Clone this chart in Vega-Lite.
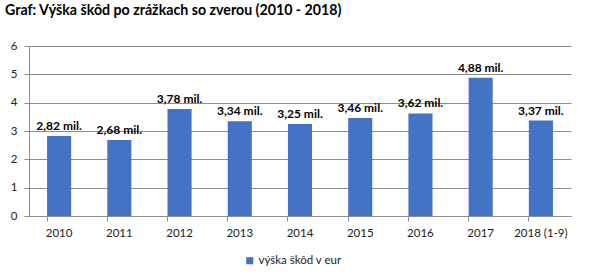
{
  "$schema": "https://vega.github.io/schema/vega-lite/v6.json",
  "autosize": {"type": "none"},
  "width": 542,
  "height": 170,
  "padding": {"left": 29, "top": 46, "right": 22, "bottom": 59},
  "background": "white",
  "title": {
    "text": "Graf: Výška škôd po zrážkach so zverou (2010 - 2018)",
    "anchor": "start",
    "frame": "group",
    "dx": -24,
    "offset": 22,
    "font": "Lato",
    "fontSize": 14.2,
    "fontWeight": "bold",
    "color": "#000000"
  },
  "config": {
    "view": {"stroke": null},
    "font": "Lato",
    "axis": {
      "labelFont": "Lato",
      "labelFontSize": 11.5,
      "labelColor": "#222222",
      "domainColor": "#8c8c8c",
      "tickColor": "#8c8c8c",
      "gridColor": "#8c8c8c",
      "titleFontSize": 11
    }
  },
  "data": {
    "values": [
      {"rok": "2010", "skody": 2.82, "popis": "2,82 mil."},
      {"rok": "2011", "skody": 2.68, "popis": "2,68 mil."},
      {"rok": "2012", "skody": 3.78, "popis": "3,78 mil."},
      {"rok": "2013", "skody": 3.34, "popis": "3,34 mil."},
      {"rok": "2014", "skody": 3.25, "popis": "3,25 mil."},
      {"rok": "2015", "skody": 3.46, "popis": "3,46 mil."},
      {"rok": "2016", "skody": 3.62, "popis": "3,62 mil."},
      {"rok": "2017", "skody": 4.88, "popis": "4,88 mil."},
      {"rok": "2018 (1-9)", "skody": 3.37, "popis": "3,37 mil."}
    ]
  },
  "encoding": {
    "x": {
      "field": "rok",
      "type": "nominal",
      "sort": null,
      "scale": {"paddingInner": 0.6, "paddingOuter": 0.3},
      "axis": {
        "title": null,
        "labelAngle": 0,
        "bandPosition": 0,
        "tickSize": 5,
        "labelPadding": 6,
        "domainColor": "#8c8c8c"
      }
    },
    "y": {
      "field": "skody",
      "type": "quantitative",
      "scale": {"domain": [0, 6], "nice": false},
      "axis": {
        "title": null,
        "values": [0, 1, 2, 3, 4, 5, 6],
        "format": "d",
        "tickSize": 5,
        "labelPadding": 7,
        "grid": true
      }
    }
  },
  "layer": [
    {
      "mark": {"type": "bar", "color": "#4472C4"},
      "encoding": {
        "color": {
          "datum": "výška škôd v eur",
          "type": "nominal",
          "scale": {"range": ["#4472C4"]},
          "legend": {
            "title": null,
            "orient": "none",
            "legendX": 215,
            "legendY": 209,
            "symbolType": "square",
            "symbolSize": 50,
            "symbolStrokeWidth": 0,
            "labelFont": "Lato",
            "labelFontSize": 11.5,
            "labelColor": "#222222",
            "labelOffset": 3
          }
        }
      }
    },
    {
      "mark": {
        "type": "text",
        "baseline": "bottom",
        "dy": -3,
        "font": "Lato",
        "fontSize": 12,
        "fontWeight": "bold",
        "color": "#000000"
      },
      "encoding": {"text": {"field": "popis"}}
    }
  ]
}
